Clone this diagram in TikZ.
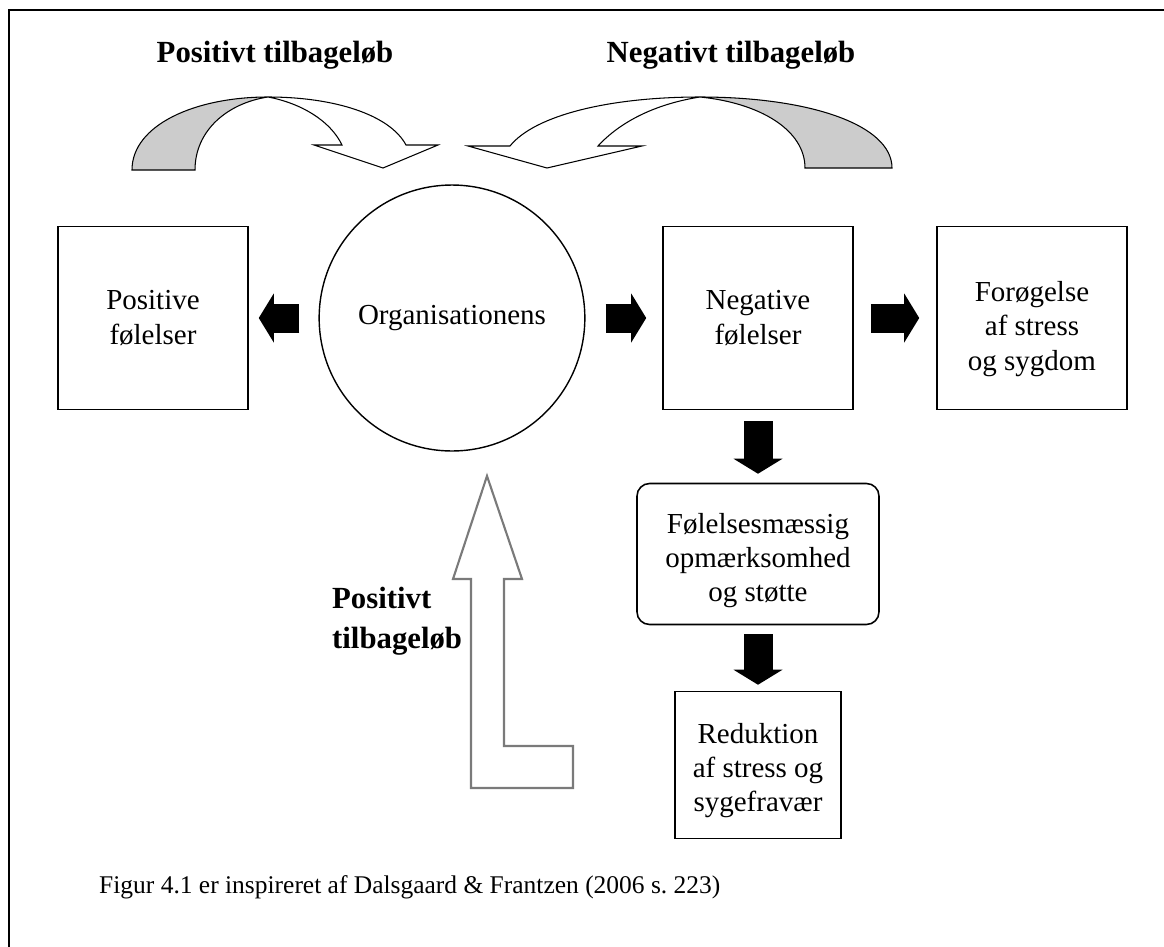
\documentclass[tikz,border=0pt]{standalone}
\usepackage{fontspec}
\setmainfont{Liberation Serif}
\usetikzlibrary{arrows.meta,positioning,calc,shapes.geometric}
\definecolor{ribbon}{HTML}{CCCCCC}
\definecolor{hollow}{HTML}{7A7A7A}

\begin{document}
\begin{tikzpicture}[x=0.02cm,y=-0.02cm,
  txt/.style={font=\fontsize{16.5}{19.5}\selectfont, align=center},
  ttl/.style={font=\fontsize{17.5}{22.5}\selectfont\bfseries},
  box/.style={txt, draw, line width=0.9pt, minimum width=3.8cm, minimum height=3.66cm, inner sep=0pt},
  blk/.style={line width=0.58cm, -{Triangle[length=0.3cm,width=0.98cm,line width=0pt]}},
  ribbonline/.style={draw=black, line width=0.6pt, line join=miter}]
  \useasboundingbox (0,0) rectangle (1164,947);
  % frame
  \draw[line width=1.6pt] (9,947) -- (9,10) -- (1164,10);

  \node[ttl] (postitle) at (275,55) {Positivt tilbageløb};
  \node[ttl] (negtitle) at (731,55) {Negativt tilbageløb};

  % feedback ribbons
  \filldraw[fill=ribbon, ribbonline] (132,170) .. controls (132,125) and (195,97) .. (268,97)
    .. controls (228,103) and (195,130) .. (195,170) -- cycle;
  \filldraw[fill=white, ribbonline] (268,97) .. controls (335,97) and (390,115) .. (406,145)
    -- (438,145) -- (383,168) -- (314,145) -- (342,145)
    .. controls (330,120) and (300,103) .. (268,97) -- cycle;
  \filldraw[fill=ribbon, ribbonline] (892,168) .. controls (892,125) and (810,97) .. (700,97)
    .. controls (760,103) and (805,130) .. (805,168) -- cycle;
  \filldraw[fill=white, ribbonline] (700,97) .. controls (610,97) and (535,115) .. (510,146)
    -- (468,146) -- (547,168) -- (642,146) -- (598,146)
    .. controls (620,122) and (655,104) .. (700,97) -- cycle;

  \node[box] (lbox) at (153,318) {Positive\\følelser};
  \node[txt, draw, ellipse, line width=0.8pt, minimum width=5cm, minimum height=5.32cm, inner sep=0pt]
    (circ) at (452,318) {Organisationens};
  \node[box] (neg) at (758,318) {Negative\\følelser};
  \node[box] (forg) at (1032,318) {\rule{0pt}{24pt}Forøgelse\\af stress\\og sygdom};
  \node[box, rounded corners=0.25cm, minimum width=4.84cm, minimum height=2.82cm]
    (rbox) at (758,554) {\rule{0pt}{19pt}Følelsesmæssig\\opmærksomhed\\og støtte};
  \node[box, minimum width=3.32cm, minimum height=2.94cm]
    (red) at (758,765) {\rule{0pt}{18pt}Reduktion\\af stress og\\sygefravær};

  \draw[blk, shorten <=0.38cm, shorten >=0.2cm] (circ) -- (lbox);
  \draw[blk, shorten <=0.4cm, shorten >=0.32cm] (circ) -- (neg);
  \draw[blk, shorten <=0.34cm, shorten >=0.34cm] (neg) -- (forg);
  \draw[blk, shorten <=0.22cm, shorten >=0.18cm] (neg) -- (rbox);
  \draw[blk, shorten <=0.18cm, shorten >=0.12cm] (rbox) -- (red);

  % hollow L arrow
  \draw[hollow, line width=1.2pt, fill=white] (487,476) -- (522,579) -- (504,579) -- (504,746)
    -- (573,746) -- (573,788) -- (471,788) -- (471,579) -- (453,579) -- cycle;
  \node[ttl, anchor=west, align=left] (ltitle) at (326,621) {Positivt\\tilbageløb};

  \node[font=\fontsize{14.5}{17}\selectfont, anchor=west] (caption) at (93,887)
    {Figur 4.1 er inspireret af Dalsgaard \& Frantzen (2006 s.\ 223)};
\end{tikzpicture}
\end{document}
